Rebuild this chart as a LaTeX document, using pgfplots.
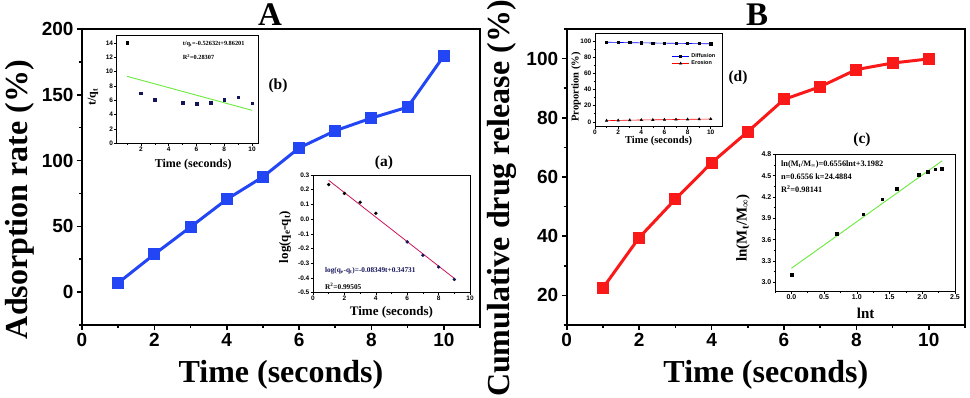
\documentclass[border=0pt]{standalone}
\usepackage{pgfplots}
\pgfplotsset{compat=1.18}
\usepackage{fontspec}
\setmainfont{Liberation Serif}
\setsansfont{Liberation Sans}
\definecolor{mainblue}{RGB}{35,70,245}
\definecolor{mainred}{RGB}{250,25,25}
\definecolor{fitgreen}{RGB}{105,235,60}
\definecolor{fitred}{RGB}{205,20,90}
\definecolor{navy}{RGB}{20,20,90}
\newcommand{\fs}[1]{\fontsize{#1}{#1}\selectfont}
\pgfplotsset{
  mainax/.style={anchor=south west, scale only axis, width=398pt, height=296pt, xmin=0, xmax=11,
    tick align=outside, xtick pos=bottom, ytick pos=left, axis line style={line width=2.1pt},
    major tick length=5pt, minor tick length=3pt,
    tick style={black, line width=1.6pt},
    ticklabel style={font=\sffamily\bfseries\fs{19}},
    /pgf/number format/assume math mode=true,
    xtick={0,2,...,10}, minor xtick={1,3,...,11},
    label style={font=\bfseries\fs{32}},
    xlabel style={at={(axis description cs:0.5,-0.169)}, anchor=center},
    clip=false},
  inset/.style={anchor=south west, scale only axis, axis background/.style={fill=white},
    tick align=outside, xtick pos=bottom, ytick pos=left, axis line style={line width=0.9pt},
    major tick length=2.5pt, minor tick length=1.5pt,
    tick style={black, line width=0.6pt},
    ticklabel style={font=\sffamily\bfseries\fs{6.5}, inner sep=1pt},
    /pgf/number format/assume math mode=true,
    label style={font=\bfseries\fs{12}}, clip=false},
}
\begin{document}
\begin{tikzpicture}[x=1pt,y=1pt]
\useasboundingbox (0,0) rectangle (970,397);
% ---------------- Panel A ----------------
\begin{axis}[mainax, at={(82pt,72pt)},
  ymin=-25, ymax=200, ytick={0,50,...,200}, minor ytick={-25,25,...,175},
  xlabel={Time (seconds)}, ylabel={Adsorption rate (\%)},
  ylabel style={at={(axis description cs:-0.156,0.424)}, anchor=center}]
\addplot[color=mainblue, line width=3pt, mark=square*, mark size=4.5pt] coordinates {
(1,7) (2,28.8) (3,49.5) (4,70.5) (5,87.6) (6,109.6) (7,122.7) (8,132.3) (9,140.6) (10,179.5)};
\end{axis}
\node[font=\bfseries\fs{33}] at (270,382) {A};
% inset (b)
\begin{axis}[inset, at={(116.7pt,253.7pt)}, width=141.6pt, height=107.6pt,
  xmin=0.25, xmax=10.45, ymin=0, ymax=15, xtick={2,4,...,10}, minor xtick={1,3,...,9},
  ytick={0,2,...,14},
  xlabel={Time (seconds)}, ylabel={t/q\textsubscript{t}},
  xlabel style={at={(axis description cs:0.54,-0.2)}, anchor=center},
  ylabel style={at={(axis description cs:-0.167,0.43)}, anchor=center}]
\addplot[color=fitgreen, line width=0.9pt] coordinates {(1,9.33569) (10,4.59881)};
\addplot[only marks, mark=square*, mark size=1.3pt, color=black] coordinates {(1,14)};
\addplot[only marks, mark=square*, mark size=1.3pt, color=navy] coordinates {
(2,7) (3,6.1) (5,5.7) (6,5.5) (7,5.7) (8,6.1) (9,6.4) (10,5.6)};
\node[anchor=west, font=\bfseries\fs{6.3}, inner sep=0pt] at (axis cs:5.0,13.9) {t/q\textsubscript{t}=-0.52632t+9.86201};
\node[anchor=west, font=\bfseries\fs{6.3}, inner sep=0pt] at (axis cs:5.0,12.0) {R\textsuperscript{2}=0.28307};
\end{axis}
\node[font=\bfseries\fs{15.5}] at (278,311) {(b)};
% inset (a)
\begin{axis}[inset, at={(313pt,104.3pt)}, width=157pt, height=117.7pt,
  xmin=0, xmax=10, ymin=-0.5, ymax=0.3, xtick={0,2,...,10}, minor xtick={1,3,...,9},
  ytick={-0.5,-0.4,...,0.3},
  yticklabel style={/pgf/number format/.cd, fixed, fixed zerofill, precision=1},
  xlabel={Time (seconds)}, ylabel={log(q\textsubscript{e}-q\textsubscript{t})},
  label style={font=\bfseries\fs{13}},
  xlabel style={at={(axis description cs:0.5,-0.164)}, anchor=center},
  ylabel style={at={(axis description cs:-0.178,0.473)}, anchor=center, font=\bfseries\fs{13}}]
\addplot[color=fitred, line width=0.8pt] coordinates {(1,0.26382) (9,-0.4026)};
\addplot[only marks, mark=*, mark size=1.5pt, color=black] coordinates {
(1,0.235) (2,0.175) (3,0.115) (4,0.04)};
\addplot[only marks, mark=*, mark size=1.5pt, color=navy] coordinates {
(6,-0.155) (7,-0.245) (8,-0.325) (9,-0.41)};
\node[anchor=west, font=\bfseries\fs{7.3}, inner sep=0pt, text=navy] at (axis cs:0.76,-0.351) {log(q\textsubscript{e}-q\textsubscript{t})=-0.08349t+0.34731};
\node[anchor=west, font=\bfseries\fs{7.3}, inner sep=0pt] at (axis cs:0.76,-0.455) {R\textsuperscript{2}=0.99505};
\end{axis}
\node[font=\bfseries\fs{15.5}] at (384,234) {(a)};
% ---------------- Panel B ----------------
\begin{axis}[mainax, at={(566.7pt,72pt)}, width=398.3pt,
  ymin=10, ymax=110, ytick={20,40,...,100}, minor ytick={10,30,...,110},
  xlabel={Time (seconds)}, ylabel={Cumulative drug release (\%)},
  ylabel style={at={(axis description cs:-0.162,0.427)}, anchor=center}]
\addplot[color=mainred, line width=3pt, mark=square*, mark size=4.5pt] coordinates {
(1,22.5) (2,39.5) (3,52.5) (4,64.8) (5,75.3) (6,86.2) (7,90.5) (8,96.3) (9,98.5) (10,99.9)};
\end{axis}
\node[font=\bfseries\fs{33}] at (757,382) {B};
% inset (d)
\begin{axis}[inset, at={(595pt,270.3pt)}, width=127.3pt, height=93.4pt,
  xmin=0, xmax=11, ymin=-6, ymax=109.5, xtick={0,2,...,10}, minor xtick={1,3,...,9},
  ytick={0,20,...,100}, minor ytick={10,30,...,90},
  xlabel={Time (seconds)}, ylabel={Proportion (\%)},
  label style={font=\bfseries\fs{10.5}},
  xlabel style={at={(axis description cs:0.5,-0.153)}, anchor=center},
  ylabel style={at={(axis description cs:-0.149,0.425)}, anchor=center},
  legend style={at={(0.97,0.82)}, anchor=north east, draw=none, fill=none,
    font=\sffamily\bfseries\fs{5.5}, row sep=-2pt, inner sep=1pt},
  legend cell align=left]
\addplot[color=blue, line width=0.6pt, mark=square*, mark size=1.1pt, mark options={black}] coordinates {
(1,98.5) (2,98.2) (3,97.9) (4,97.7) (5,97.5) (6,97.3) (7,97.1) (8,96.9) (9,96.7) (10,96.5)};
\addlegendentry{Diffusion}
\addplot[color=red, line width=0.6pt, mark=triangle*, mark size=1.3pt, mark options={black}] coordinates {
(1,1.5) (2,1.8) (3,2.1) (4,2.3) (5,2.5) (6,2.7) (7,2.9) (8,3.1) (9,3.3) (10,3.5)};
\addlegendentry{Erosion}
\end{axis}
\node[font=\bfseries\fs{15.5}] at (738,319) {(d)};
% inset (c)
\begin{axis}[inset, at={(775pt,106pt)}, width=180pt, height=136.7pt,
  xmin=-0.25, xmax=2.5, ymin=2.88, ymax=4.8, xtick={0,0.5,...,2.5}, minor xtick={-0.25,0.25,...,2.25},
  ytick={3.0,3.3,3.6,3.9,4.2,4.5,4.8}, minor ytick={3.15,3.45,3.75,4.05,4.35,4.65},
  ticklabel style={font=\sffamily\bfseries\fs{7}},
  xticklabel style={/pgf/number format/.cd, fixed, fixed zerofill, precision=1},
  yticklabel style={/pgf/number format/.cd, fixed, fixed zerofill, precision=1},
  xlabel={lnt}, ylabel={ln(M\textsubscript{t}/M\textsubscript{∞})},
  label style={font=\bfseries\fs{15}},
  xlabel style={at={(axis description cs:0.504,-0.163)}, anchor=center, font=\bfseries\fs{15}},
  ylabel style={at={(axis description cs:-0.178,0.46)}, anchor=center}]
\addplot[color=fitgreen, line width=0.9pt] coordinates {(0,3.1982) (2.302585,4.70778)};
\addplot[only marks, mark=square*, mark size=1.4pt, color=black] coordinates {
(0,3.11) (0.693147,3.68) (1.098612,3.96) (1.386294,4.17) (1.609438,4.32)
(1.945910,4.51) (2.079442,4.56) (2.197225,4.59) (2.302585,4.60)};
\node[anchor=west, font=\bfseries\fs{8.3}, inner sep=0pt] at (axis cs:-0.16,4.66) {ln(M\textsubscript{t}/M\textsubscript{∞})=0.6556lnt+3.1982};
\node[anchor=west, font=\bfseries\fs{8.3}, inner sep=0pt] at (axis cs:-0.16,4.48) {n=0.6556 k=24.4884};
\node[anchor=west, font=\bfseries\fs{8.3}, inner sep=0pt] at (axis cs:-0.16,4.31) {R\textsuperscript{2}=0.98141};
\end{axis}
\node[font=\bfseries\fs{15.5}] at (862,257) {(c)};
\end{tikzpicture}
\end{document}
